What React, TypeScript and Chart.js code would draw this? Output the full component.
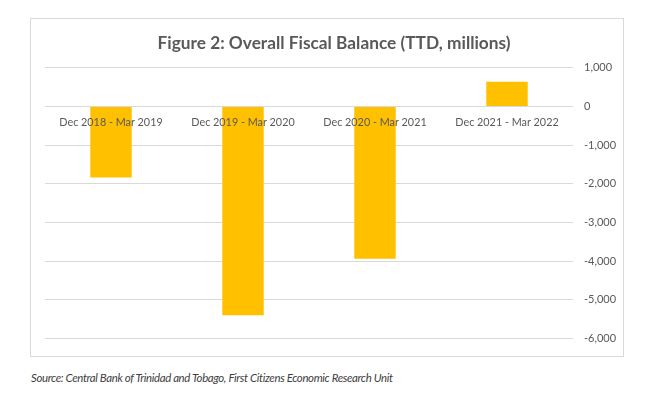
import React, { useEffect, useRef } from "react";
import { Chart, registerables } from "chart.js";

Chart.register(...registerables);

const categories = [
  "Dec 2018 - Mar 2019",
  "Dec 2019 - Mar 2020",
  "Dec 2020 - Mar 2021",
  "Dec 2021 - Mar 2022",
];
const fiscalBalance = [-1838, -5400, -3938, 640];
const yMin = -6000;
const yMax = 1000;
const yStep = 1000;

const titleText = "Figure 2: Overall Fiscal Balance (TTD, millions)";
const sourceText =
  "Source: Central Bank of Trinidad and Tobago, First Citizens Economic Research Unit";

export default function App() {
  const canvasRef = useRef<HTMLCanvasElement | null>(null);

  useEffect(() => {
    const canvas = canvasRef.current;
    if (!canvas) return;
    const chart = new Chart(canvas, {
      type: "bar",
      data: {
        labels: categories,
        datasets: [
          {
            data: fiscalBalance,
            backgroundColor: "#FFC000",
            borderWidth: 0,
            categoryPercentage: 1,
            barPercentage: 0.314,
          },
        ],
      },
      options: {
        responsive: false,
        animation: false,
        devicePixelRatio: 1,
        layout: { padding: { left: 14, right: 0, top: 0, bottom: 14 } },
        plugins: {
          legend: { display: false },
          tooltip: { enabled: false },
          title: {
            display: true,
            text: titleText,
            color: "#595959",
            font: { family: "Lato", size: 17.3, weight: "bold" },
            padding: { top: 14, bottom: 14 },
          },
        },
        scales: {
          x: {
            position: { y: 0 } as any,
            grid: { display: false, drawTicks: false },
            border: { display: false },
            ticks: {
              z: 1,
              color: "#595959",
              font: { family: "Lato", size: 10.8 },
              padding: 10,
              maxRotation: 0,
              autoSkip: false,
            },
          },
          y: {
            position: "right",
            min: yMin,
            max: yMax,
            grid: { color: "#D9D9D9", lineWidth: 1, drawTicks: false },
            border: { display: false },
            ticks: {
              stepSize: yStep,
              color: "#595959",
              font: { family: "Lato", size: 11 },
              padding: 11,
            },
            afterFit: (scale: any) => {
              scale.width = 50;
            },
          },
        },
      },
    });
    return () => chart.destroy();
  }, []);

  return (
    <div
      style={{
        position: "absolute",
        left: 0,
        top: 0,
        width: 652,
        height: 393,
        background: "#FFFFFF",
        overflow: "hidden",
      }}
    >
      <div
        style={{
          position: "absolute",
          left: 30,
          top: 18,
          width: 594,
          height: 339,
          border: "1px solid #D9D9D9",
          boxSizing: "border-box",
          background: "#FFFFFF",
        }}
      >
        <canvas
          ref={canvasRef}
          width={592}
          height={337}
          style={{ display: "block", width: 592, height: 337 }}
        />
      </div>
      <div
        style={{
          position: "absolute",
          left: 31,
          top: 369,
          fontFamily: "Lato",
          fontStyle: "italic",
          fontSize: 11.4,
          letterSpacing: "-0.35px",
          lineHeight: "18px",
          color: "#404040",
          whiteSpace: "nowrap",
        }}
      >
        {sourceText}
      </div>
    </div>
  );
}
